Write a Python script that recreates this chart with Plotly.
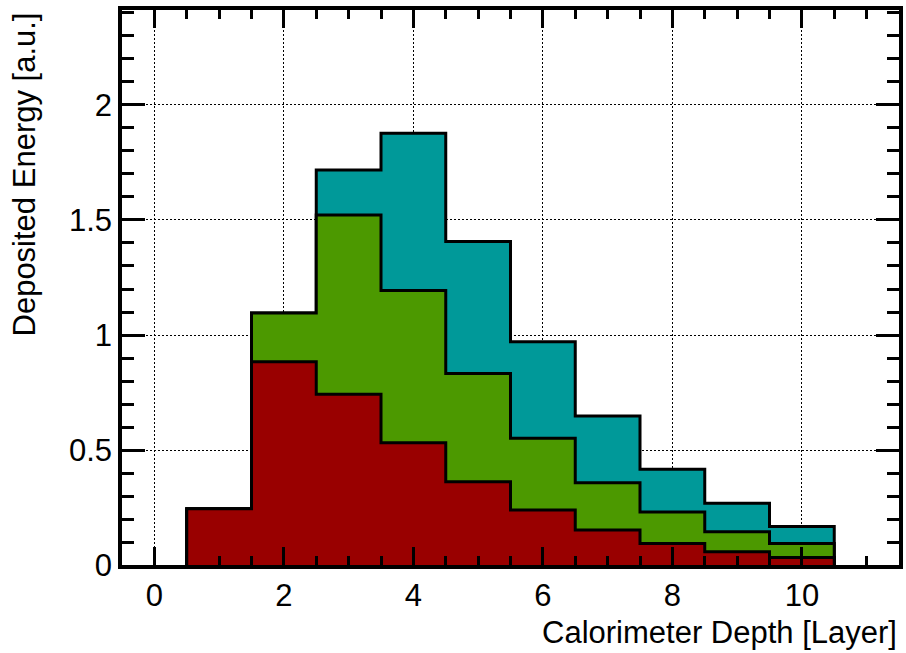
import plotly.graph_objects as go

# Calorimeter layers (bin centres) and per-layer energy contributions
layers = [1, 2, 3, 4, 5, 6, 7, 8, 9, 10]
red_part = [0.245, 0.884, 0.742, 0.532, 0.362, 0.239, 0.152, 0.094, 0.058, 0.033]
green_part = [0.0, 0.212, 0.780, 0.661, 0.471, 0.312, 0.206, 0.136, 0.087, 0.061]
teal_part = [0.0, 0.0, 0.195, 0.684, 0.573, 0.420, 0.290, 0.186, 0.123, 0.073]

x_ticks = [0, 2, 4, 6, 8, 10]
y_ticks = [0, 0.5, 1, 1.5, 2]

FONT = "Liberation Sans, Arial, Helvetica, sans-serif"
FS = 31

red_col = "#990000"
green_col = "#4c9900"
teal_col = "#009999"


def cumulative(*parts):
    return [sum(v) for v in zip(*parts)]


def step_outline(centres, values, width=1.0):
    xs, ys = [centres[0] - width / 2], [0.0]
    for c, v in zip(centres, values):
        xs += [c - width / 2, c + width / 2]
        ys += [v, v]
    xs.append(centres[-1] + width / 2)
    ys.append(0.0)
    return xs, ys


stack = [
    (cumulative(red_part, green_part, teal_part), teal_col),
    (cumulative(red_part, green_part), green_col),
    (red_part, red_col),
]

fig = go.Figure()
for vals, col in stack:
    xs, ys = step_outline(layers, vals)
    fig.add_trace(go.Scatter(
        x=xs, y=ys, mode="lines",
        line=dict(color="black", width=3),
        fill="tozeroy", fillcolor=col,
        hoverinfo="skip", showlegend=False,
    ))

axis_common = dict(
    showline=True, linewidth=3.5, linecolor="black", mirror="ticks",
    ticks="inside", tickcolor="black", tickwidth=2.5,
    showgrid=True, gridcolor="black", gridwidth=1, griddash="2px,2px",
    zeroline=False,
    tickfont=dict(family=FONT, size=FS, color="black"),
)

fig.update_xaxes(
    range=[-0.5, 11.5], tickvals=x_ticks, ticklen=18,
    minor=dict(ticks="inside", ticklen=9, tickwidth=2.5, tickcolor="black",
               dtick=0.5, tick0=0, showgrid=False),
    **axis_common,
)
fig.update_yaxes(
    range=[0, 2.413], tickvals=y_ticks, ticklen=23,
    minor=dict(ticks="inside", ticklen=12, tickwidth=2.5, tickcolor="black",
               dtick=0.1, tick0=0, showgrid=False),
    **axis_common,
)

fig.add_annotation(
    text="Calorimeter Depth [Layer]", xref="paper", yref="paper",
    x=1.0, y=-0.121, xanchor="right", yanchor="middle", showarrow=False,
    font=dict(family=FONT, size=FS, color="black"),
)
fig.add_annotation(
    text="Deposited Energy [a.u.]", xref="paper", yref="paper",
    x=-0.1255, y=1.0, xanchor="center", yanchor="top", textangle=-90,
    showarrow=False, font=dict(family=FONT, size=FS, color="black"),
)

fig.update_layout(
    width=906, height=653,
    margin=dict(l=122, r=3, t=10, b=88),
    paper_bgcolor="white", plot_bgcolor="white",
    font=dict(family=FONT, size=FS, color="black"),
)

fig.write_html("out.html")
